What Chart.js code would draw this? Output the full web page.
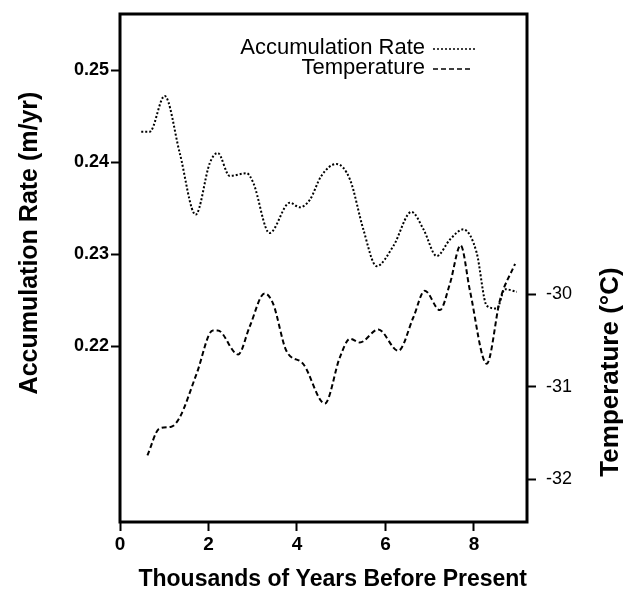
<!DOCTYPE html>
<html>
<head>
<meta charset="utf-8">
<script src="https://cdn.jsdelivr.net/npm/chart.js@4/dist/chart.umd.min.js"></script>
<style>
  html, body { margin: 0; padding: 0; background: #fff; }
</style>
</head>
<body>
<canvas id="myChart" width="624" height="593"></canvas>
<script>
// accumulation rate (m/yr) vs thousands of years before present
const accYears = [0.48, 0.67, 1.01, 1.35, 1.71, 2.03, 2.21, 2.48, 2.86, 3.01, 3.38, 3.84, 4.06, 4.29, 4.55, 4.89, 5.20, 5.50, 5.80, 6.18, 6.59, 6.86, 7.16, 7.46, 7.76, 8.06, 8.29, 8.52, 8.70, 8.97];
const accRate = [0.2433, 0.2433, 0.2472, 0.2410, 0.2343, 0.2399, 0.2410, 0.2385, 0.2388, 0.2378, 0.2323, 0.2356, 0.2351, 0.2359, 0.2385, 0.2398, 0.2381, 0.2327, 0.2287, 0.2309, 0.2346, 0.2327, 0.2298, 0.2316, 0.2327, 0.2302, 0.2244, 0.2241, 0.2262, 0.2259];

// temperature (deg C)
const tempYears = [0.62, 0.89, 1.16, 1.35, 1.73, 2.10, 2.21, 2.67, 2.93, 3.27, 3.46, 3.76, 4.14, 4.63, 4.97, 5.20, 5.42, 5.84, 6.29, 6.63, 6.89, 7.23, 7.46, 7.70, 7.91, 8.29, 8.59, 8.93];
const tempValues = [-31.74, -31.45, -31.43, -31.33, -30.86, -30.39, -30.39, -30.65, -30.35, -29.99, -30.10, -30.61, -30.75, -31.18, -30.68, -30.48, -30.52, -30.38, -30.61, -30.25, -29.96, -30.17, -29.88, -29.47, -29.96, -30.75, -30.06, -29.67];

const xTicks = [0, 2, 4, 6, 8];
const accTicks = [0.22, 0.23, 0.24, 0.25];
const tempTicks = [-32, -31, -30];

const FONT = "'Liberation Sans', Arial, Helvetica, sans-serif";

function toPoints(xs, ys) {
    return xs.map((x, i) => ({ x: x, y: ys[i] }));
}

// box around the plot
const frame = {
    id: 'frame',
    afterDatasetsDraw(chart) {
        const { ctx, chartArea: a } = chart;
        ctx.save();
        ctx.strokeStyle = '#000';
        ctx.lineWidth = 3;
        ctx.strokeRect(a.left, a.top, a.right - a.left, a.bottom - a.top);
        ctx.restore();
    }
};

// legend inside the plot: text right aligned, line sample to the right
const legendBox = {
    id: 'legendBox',
    afterDraw(chart) {
        const ctx = chart.ctx;
        const items = chart.data.datasets;
        ctx.save();
        ctx.font = '22px ' + FONT;
        ctx.fillStyle = '#000';
        ctx.textAlign = 'right';
        ctx.textBaseline = 'middle';
        items.forEach((ds, i) => {
            const y = 48 + i * 20;
            ctx.fillText(ds.label, 425, y);
            ctx.beginPath();
            ctx.setLineDash(ds.borderDash);
            ctx.lineWidth = 1.5;
            ctx.strokeStyle = '#000';
            ctx.moveTo(433, y + 1);
            ctx.lineTo(i === 0 ? 477 : 471, y + 1);
            ctx.stroke();
        });
        ctx.restore();
    }
};

// both y titles read bottom to top
function sideTitle(ctx, text, x, y, size) {
    ctx.save();
    ctx.translate(x, y);
    ctx.rotate(-Math.PI / 2);
    ctx.font = 'bold ' + size + 'px ' + FONT;
    ctx.fillStyle = '#000';
    ctx.textAlign = 'center';
    ctx.textBaseline = 'middle';
    ctx.fillText(text, 0, 0);
    ctx.restore();
}

const yTitles = {
    id: 'yTitles',
    afterDraw(chart) {
        sideTitle(chart.ctx, 'Accumulation Rate (m/yr)', 30, 243, 25);
        sideTitle(chart.ctx, 'Temperature (\u00B0C)', 611, 372, 26);
    }
};

const tickGrid = {
    display: true,
    drawOnChartArea: false,
    drawTicks: true,
    tickLength: 9,
    tickWidth: 2,
    tickColor: '#000'
};

new Chart(document.getElementById('myChart'), {
    type: 'line',
    data: {
        datasets: [{
            label: 'Accumulation Rate',
            data: toPoints(accYears, accRate),
            yAxisID: 'y',
            borderColor: '#000',
            borderWidth: 2,
            borderDash: [2, 2],
            pointRadius: 0,
            fill: false,
            cubicInterpolationMode: 'monotone'
        }, {
            label: 'Temperature',
            data: toPoints(tempYears, tempValues),
            yAxisID: 'y2',
            borderColor: '#000',
            borderWidth: 2,
            borderDash: [5, 3],
            pointRadius: 0,
            fill: false,
            cubicInterpolationMode: 'monotone'
        }]
    },
    options: {
        responsive: false,
        animation: false,
        events: [],
        layout: { padding: { top: 14, left: 0, right: 0, bottom: 0 } },
        plugins: {
            legend: { display: false },
            tooltip: { enabled: false }
        },
        scales: {
            x: {
                type: 'linear',
                min: 0,
                max: 9.2,
                afterBuildTicks: s => { s.ticks = xTicks.map(v => ({ value: v })); },
                afterFit: s => { s.height = 71; s.paddingLeft = 0; s.paddingRight = 0; },
                grid: tickGrid,
                border: { display: false },
                ticks: {
                    color: '#000',
                    font: { family: FONT, size: 19, weight: 'bold' },
                    padding: 2,
                    maxRotation: 0
                },
                title: {
                    display: true,
                    align: 'end',
                    text: 'Thousands of Years Before Present',
                    color: '#000',
                    font: { family: FONT, size: 23, weight: 'bold' },
                    padding: { top: 0, bottom: 0 }
                }
            },
            y: {
                position: 'left',
                min: 0.2009,
                max: 0.2561,
                afterBuildTicks: s => { s.ticks = accTicks.map(v => ({ value: v })); },
                afterFit: s => { s.width = 120; s.paddingTop = 0; s.paddingBottom = 0; },
                grid: tickGrid,
                border: { display: false },
                ticks: {
                    color: '#000',
                    font: { family: FONT, size: 18, weight: 'bold' },
                    padding: 2,
                    callback: v => v.toFixed(2)
                }
            },
            y2: {
                position: 'right',
                min: -32.46,
                max: -26.97,
                afterBuildTicks: s => { s.ticks = tempTicks.map(v => ({ value: v })); },
                afterFit: s => { s.width = 97; s.paddingTop = 0; s.paddingBottom = 0; },
                grid: tickGrid,
                border: { display: false },
                ticks: {
                    color: '#000',
                    font: { family: FONT, size: 18 },
                    padding: 10,
                    callback: v => String(v)
                }
            }
        }
    },
    plugins: [frame, legendBox, yTitles]
});
</script>
</body>
</html>
